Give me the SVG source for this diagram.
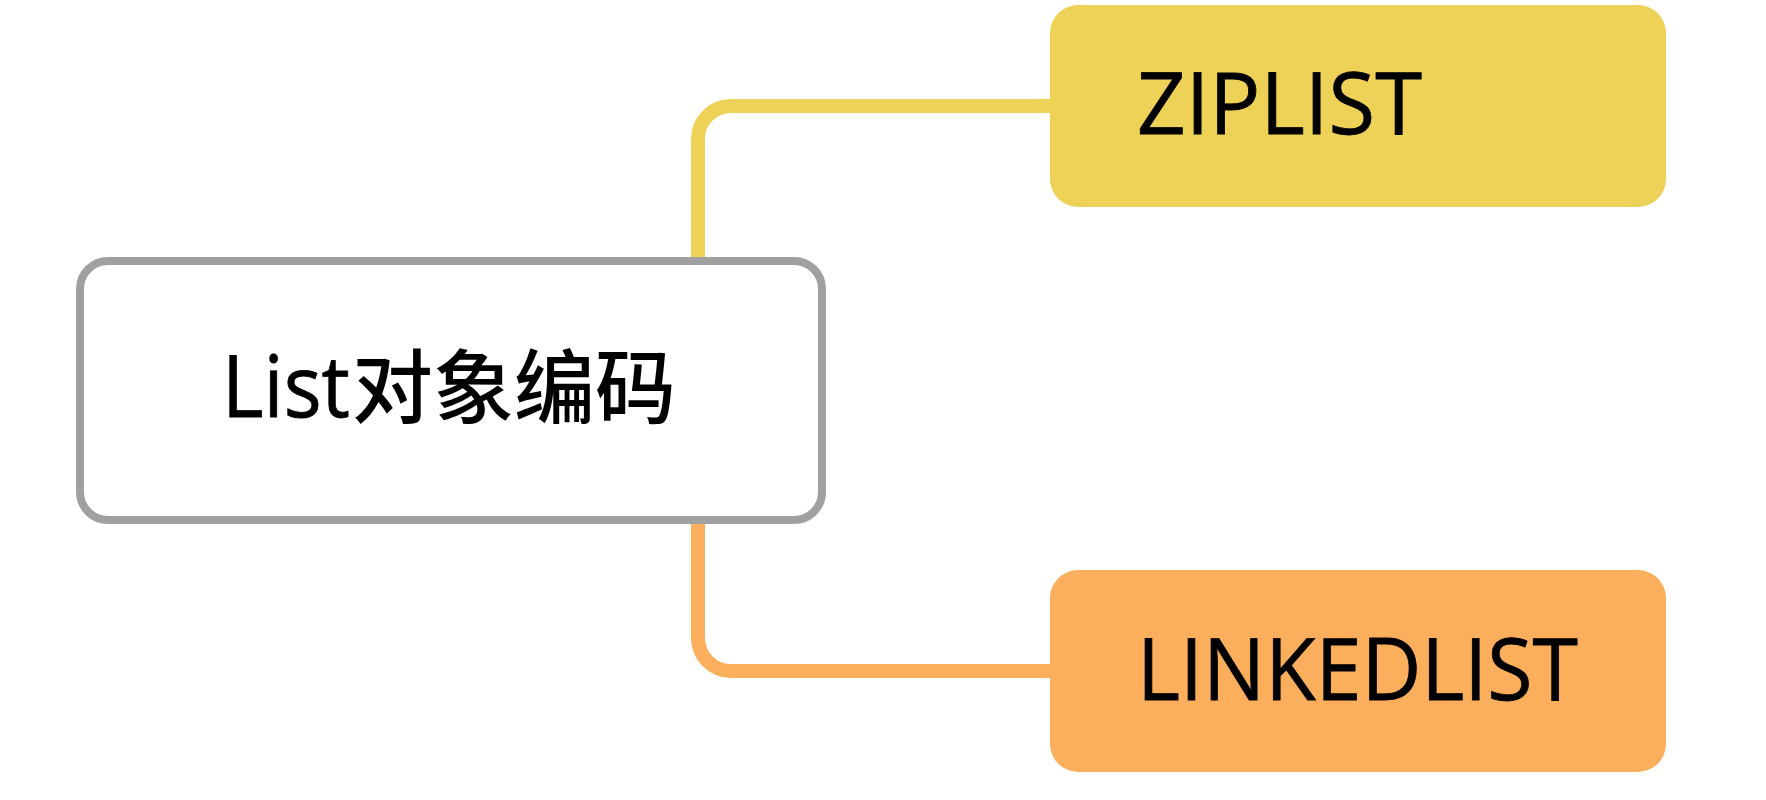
<svg xmlns="http://www.w3.org/2000/svg" width="1766" height="800" viewBox="0 0 1766 800">
<style>
.lat{font-family:"Open Sans","Noto Sans",sans-serif;font-weight:500;fill:#000;stroke:#000;stroke-width:0.8}
.cjk{font-family:"Noto Sans CJK SC","Noto Sans",sans-serif;font-weight:500;fill:#000}
.conn{fill:none;stroke-width:14;stroke-linecap:butt}
</style>
<rect width="1766" height="800" fill="#fff"/>
<g id="connectors">
<path class="conn" stroke="#EED157" d="M698,262 V139 A33,33 0 0 1 731,106 H1055"/>
<path class="conn" stroke="#FBAF5D" d="M698,519 V638 A33,33 0 0 0 731,671 H1055"/>
</g>
<g id="root">
<rect x="80" y="261" width="742" height="259" rx="28" fill="#fff" stroke="#A0A0A0" stroke-width="8"/>
<text y="417"><tspan class="lat" x="222" font-size="86" textLength="128" lengthAdjust="spacingAndGlyphs">List</tspan><tspan class="cjk" x="352" font-size="81">对象编码</tspan></text>
</g>
<g id="ziplist">
<rect x="1050" y="5" width="616" height="202" rx="28" fill="#EED157"/>
<text class="lat" x="1137" y="134" font-size="86" textLength="285" lengthAdjust="spacingAndGlyphs">ZIPLIST</text>
</g>
<g id="linkedlist">
<rect x="1050" y="570" width="616" height="202" rx="28" fill="#FBAF5D"/>
<text class="lat" x="1137" y="700" font-size="86" textLength="441" lengthAdjust="spacingAndGlyphs">LINKEDLIST</text>
</g>
</svg>
